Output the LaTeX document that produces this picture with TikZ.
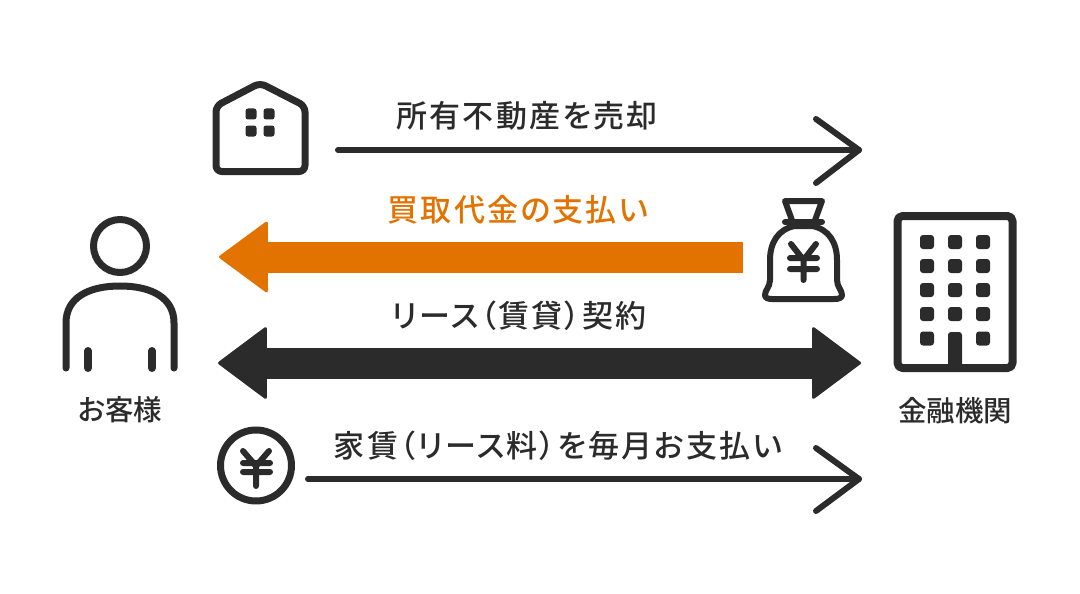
\documentclass[tikz,border=0pt]{standalone}
\usepackage{fontspec}
\usetikzlibrary{arrows.meta}
\newfontfamily\jpA[LetterSpace=7,RawFeature={+palt}]{Noto Sans CJK JP Medium}
\newfontfamily\jpB[RawFeature={+palt}]{Noto Sans CJK JP Medium}
\definecolor{ink}{HTML}{2B2B2B}
\definecolor{ora}{HTML}{E37300}
\tikzset{
 x=1pt,y=-1pt,
 icon/.style={draw=ink,line width=7pt,line cap=round,line join=round},
 thin stroke/.style={draw=ink,line width=6pt,line cap=round,line join=round},
 label big/.style={inner sep=0pt,text=ink,font=\jpA\fontsize{31}{34}\selectfont},
 label side/.style={inner sep=0pt,text=ink,font=\jpB\fontsize{28.5}{32}\selectfont},
 dot/.style={fill=ink,rounded corners=2.5pt},
 fat/.style={line width=31pt,draw=#1,line join=round},
}
\begin{document}
\begin{tikzpicture}
\useasboundingbox (0,0) rectangle (1080,594);
% labels
\node[label big] (t1) at (527,116) {所有不動産を売却};
\node[label big,text=ora] (t2) at (518,209.5) {買取代金の支払い};
\node[label big] (t3) at (519.5,316) {リース（賃貸）契約};
\node[label big] (t4) at (558,446) {家賃（リース料）を毎月お支払い};
\node[label side] (cust) at (120,410) {お客様};
\node[label side] (bank) at (955,411) {金融機関};
% connector ends
\coordinate (a1s) at (338,150); \coordinate (a1e) at (859,150);
\coordinate (a1u) at (816,119); \coordinate (a1d) at (816,183);
\coordinate (a4s) at (308,479); \coordinate (a4e) at (859,479);
\coordinate (a4u) at (816,448); \coordinate (a4d) at (816,511);
\coordinate (a2s) at (743,257); \coordinate (a2e) at (219,257);
\coordinate (a3s) at (218,363); \coordinate (a3e) at (861,363);
% open arrows
\draw[thin stroke] (a1s) -- (a1e);
\draw[thin stroke] (a1u) -- (a1e) -- (a1d);
\draw[thin stroke] (a4s) -- (a4e);
\draw[thin stroke] (a4u) -- (a4e) -- (a4d);
% fat arrows
\draw[fat=ora,-{Triangle[length=50pt,width=73pt,line width=3pt,round]}] (a2s) -- (a2e);
\draw[fat=ink,{Triangle[length=50pt,width=74pt,line width=3pt,round]}-{Triangle[length=50pt,width=74pt,line width=3pt,round]}] (a3s) -- (a3e);
% person
\draw[icon] (120,246) circle (26.5);
\draw[icon] (66,368) -- (66,323) .. controls (66,298) and (88,286) .. (120,286) .. controls (152,286) and (174,298) .. (174,323) -- (174,368);
\draw[icon,line width=8pt] (88,351) -- (88,368);
\draw[icon,line width=8pt] (152,351) -- (152,368);
% house
\draw[icon,rounded corners=6pt] (216,171.5) -- (216,106) -- (260,83) -- (305,106) -- (305,171.5) -- cycle;
\foreach \xx in {251,269} \foreach \yy in {114,131}
 \fill[dot] (\xx-5.5,\yy-5.5) rectangle (\xx+5.5,\yy+5.5);
% bag
\draw[icon,line width=6pt] (785,201) -- (822,201) -- (814,223) -- (793,223) -- cycle;
\draw[icon,line width=6pt] (785,222) -- (822,222);
\draw[icon,line width=6pt] (795,226) .. controls (778,229) and (770,243) .. (770,260) -- (770,280)
  .. controls (770,287) and (765,290) .. (765,295) .. controls (765,298) and (768,299) .. (772,299)
  -- (834,299) .. controls (839,299) and (842,298) .. (842,295) .. controls (842,290) and (837,287) .. (837,280)
  -- (837,260) .. controls (837,243) and (829,229) .. (812,226) -- cycle;
\draw[icon,line width=6pt] (791,244) -- (803.5,260) -- (816,244) (803.5,260) -- (803.5,280) (790,258) -- (817,258) (790,269) -- (817,269);
% building
\draw[icon,line width=8pt,rounded corners=5pt] (897.5,216) rectangle (1012.5,368);
\foreach \xx in {927,955,983} \foreach \yy in {242,266,290,314}
 \fill[dot,rounded corners=3pt] (\xx-7,\yy-7) rectangle (\xx+7,\yy+7);
\foreach \xx in {927,983}
 \fill[dot,rounded corners=3pt] (\xx-7,331.5) rectangle (\xx+7,345.5);
\fill[dot,rounded corners=3pt] (948,332) rectangle (962,370);
% yen coin
\draw[icon] (256,465.5) circle (35.5);
\draw[icon,line width=6pt] (243,451) -- (256,466) -- (269,451) (256,466) -- (256,486) (243,463) -- (270,463) (243,472) -- (270,472);
\end{tikzpicture}
\end{document}
